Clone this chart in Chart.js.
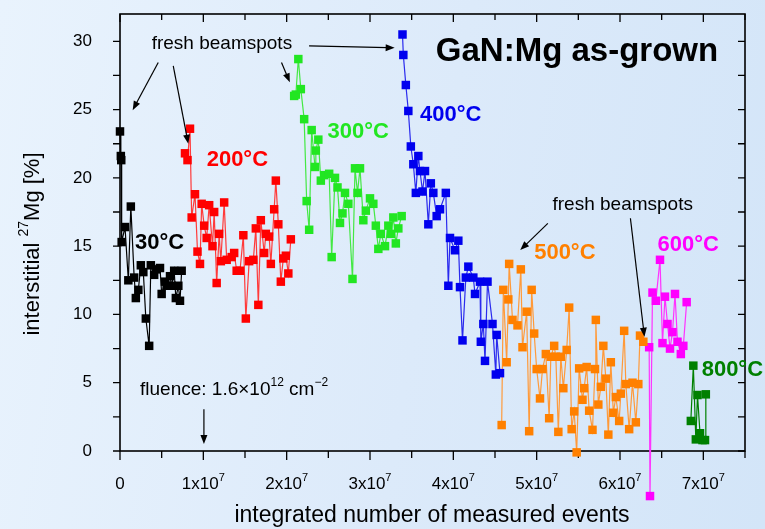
<!DOCTYPE html>
<html>
<head>
<meta charset="utf-8">
<script src="https://cdn.jsdelivr.net/npm/chart.js@4.4.1/dist/chart.umd.min.js"></script>
<style>
  html, body { margin: 0; padding: 0; }
  body {
    width: 765px; height: 529px; overflow: hidden;
    background: linear-gradient(100deg, #e9f3fd 0%, #dceafa 55%, #d3e5f8 100%);
  }
  canvas { display: block; }
</style>
</head>
<body>
<canvas id="chart" width="765" height="529"></canvas>
<script>
// x values in units of 1x10^7 measured events, y = interstitial 27Mg fraction [%]

const x30 = [0.00, 0.01, 0.015, 0.02, 0.06, 0.10, 0.13, 0.17, 0.19, 0.22, 0.25, 0.28, 0.31, 0.35, 0.37, 0.41, 0.44, 0.48, 0.50, 0.54, 0.56, 0.60, 0.62, 0.65, 0.67, 0.70, 0.72, 0.74];
const y30 = [23.4, 21.6, 21.3, 15.3, 16.4, 12.5, 17.9, 12.7, 11.2, 11.8, 13.6, 13.1, 9.7, 7.7, 13.6, 12.9, 13.3, 13.4, 11.5, 12.4, 12.1, 12.8, 12.1, 13.2, 11.2, 12.1, 11.0, 13.2];

const x200 = [0.78, 0.81, 0.84, 0.86, 0.90, 0.93, 0.96, 0.98, 1.01, 1.04, 1.07, 1.11, 1.13, 1.16, 1.19, 1.21, 1.25, 1.28, 1.34, 1.37, 1.40, 1.44, 1.48, 1.51, 1.55, 1.60, 1.63, 1.66, 1.69, 1.73, 1.75, 1.79, 1.81, 1.85, 1.87, 1.90, 1.93, 1.96, 1.99, 2.02, 2.05];
const y200 = [21.8, 21.3, 23.6, 17.1, 18.8, 14.6, 13.7, 18.1, 16.5, 15.6, 18.0, 15.0, 17.5, 12.3, 15.9, 13.9, 18.2, 14.0, 14.2, 14.5, 13.2, 13.2, 15.8, 9.7, 13.9, 14.0, 16.3, 10.7, 16.9, 14.5, 15.9, 15.7, 13.7, 17.7, 19.8, 16.6, 12.4, 14.1, 14.3, 13.0, 15.5];

const x300 = [2.09, 2.11, 2.14, 2.17, 2.21, 2.24, 2.27, 2.30, 2.34, 2.35, 2.38, 2.41, 2.45, 2.51, 2.54, 2.58, 2.61, 2.64, 2.67, 2.70, 2.74, 2.79, 2.82, 2.85, 2.88, 2.92, 2.95, 3.00, 3.04, 3.07, 3.10, 3.13, 3.18, 3.22, 3.25, 3.28, 3.31, 3.34, 3.38];
const y300 = [26.0, 26.1, 28.7, 26.5, 24.3, 18.3, 16.2, 23.5, 20.8, 22.0, 22.8, 19.8, 20.2, 20.3, 14.2, 20.0, 19.3, 16.7, 17.4, 18.9, 18.1, 12.6, 20.7, 18.9, 20.7, 16.9, 17.6, 18.5, 18.1, 16.5, 14.8, 15.9, 15.0, 16.5, 15.9, 17.1, 15.2, 16.3, 17.2];

const x400 = [3.39, 3.40, 3.43, 3.46, 3.49, 3.52, 3.55, 3.58, 3.60, 3.63, 3.66, 3.70, 3.73, 3.76, 3.80, 3.84, 3.91, 3.94, 3.96, 4.02, 4.06, 4.08, 4.11, 4.15, 4.18, 4.24, 4.26, 4.32, 4.33, 4.36, 4.38, 4.41, 4.47, 4.51, 4.52, 4.56];
const y400 = [30.5, 29.0, 26.8, 24.9, 22.3, 21.0, 18.9, 21.6, 20.5, 19.0, 20.5, 16.6, 19.6, 18.9, 17.2, 17.7, 18.9, 12.1, 15.6, 14.7, 15.4, 12.0, 8.1, 12.7, 13.5, 12.7, 11.5, 12.4, 8.0, 9.3, 6.6, 12.4, 9.3, 5.6, 8.5, 5.7];

const x500 = [4.58, 4.60, 4.64, 4.66, 4.67, 4.71, 4.77, 4.81, 4.83, 4.88, 4.91, 4.94, 4.97, 5.00, 5.04, 5.07, 5.11, 5.15, 5.17, 5.21, 5.23, 5.26, 5.29, 5.32, 5.36, 5.39, 5.42, 5.45, 5.48, 5.51, 5.55, 5.57, 5.60, 5.63, 5.67, 5.70, 5.71, 5.74, 5.77, 5.80, 5.83, 5.86, 5.89, 5.92, 5.95, 5.99, 6.01, 6.05, 6.07, 6.11, 6.15, 6.19, 6.22, 6.24, 6.28];
const y500 = [1.9, 11.8, 6.5, 11.1, 13.7, 9.6, 9.2, 13.3, 7.6, 10.2, 1.45, 11.8, 8.6, 6.0, 3.85, 6.0, 7.1, 2.4, 6.9, 7.7, 6.9, 1.4, 6.9, 4.6, 7.4, 10.5, 1.6, 2.9, -0.1, 6.05, 3.75, 4.6, 6.15, 2.95, 1.55, 6.0, 9.6, 3.4, 4.7, 7.7, 5.3, 1.2, 6.5, 2.8, 3.95, 2.2, 4.2, 8.8, 4.9, 1.6, 5.0, 2.1, 4.9, 8.45, 8.0];

const x600 = [6.35, 6.36, 6.39, 6.43, 6.48, 6.51, 6.54, 6.57, 6.60, 6.63, 6.66, 6.69, 6.73, 6.76, 6.80];
const y600 = [7.6, -3.3, 11.6, 11.0, 14.0, 7.9, 11.3, 9.3, 7.5, 8.7, 11.5, 8.0, 7.1, 7.7, 10.9];

const x800 = [6.85, 6.88, 6.91, 6.93, 6.96, 6.99, 7.02, 7.03];
const y800 = [2.2, 6.25, 0.85, 4.1, 1.3, 0.8, 0.8, 4.15];

const xTicks = [0, 1, 2, 3, 4, 5, 6, 7];
const yTicks = [0, 5, 10, 15, 20, 25, 30];

// temperature labels: [text, x, y, colour]
const tempLabels = [
  ["30°C", 0.18, 15.2, "#000000"],
  ["200°C", 1.04, 21.3, "#ff0000"],
  ["300°C", 2.49, 23.4, "#22e622"],
  ["400°C", 3.60, 24.6, "#0000ee"],
  ["500°C", 4.97, 14.5, "#ff8000"],
  ["600°C", 6.45, 15.1, "#ff00ff"],
  ["800°C", 6.98, 5.9, "#008000"],
];

// arrows: [x0, y0, x1, y1] in data units
const arrows = [
  [0.459, 28.45, 0.152, 24.96],
  [0.639, 28.2, 0.819, 22.5],
  [1.938, 28.45, 2.038, 27.0],
  [2.269, 29.67, 3.296, 29.52],
  [5.134, 16.67, 4.803, 14.71],
  [6.125, 17.04, 6.293, 8.37],
  [1.007, 3.05, 1.007, 0.51],
];

const FONT = '"Liberation Sans", Arial, sans-serif';
const MARK = 6; // point radius of the square markers

function series(label, xs, ys, color, lineColor) {
  return {
    label,
    data: xs.map((x, i) => ({ x, y: ys[i] })),
    showLine: true,
    borderColor: lineColor,
    borderWidth: 1.2,
    backgroundColor: color,
    pointStyle: "rect",
    pointRadius: MARK,
    pointBorderWidth: 0,
    pointBackgroundColor: color,
    tension: 0,
    clip: false,
  };
}

// draw text made of normal and superscript parts
function richText(ctx, parts, x, y, size, weight) {
  let cx = x;
  for (const p of parts) {
    const s = p.sup ? Math.round(size * 0.62) : size;
    ctx.font = `${weight || ""} ${s}px ${FONT}`;
    ctx.fillText(p.t, cx, p.sup ? y - size * 0.38 : y);
    cx += ctx.measureText(p.t).width;
  }
}

function richWidth(ctx, parts, size) {
  let w = 0;
  for (const p of parts) {
    const s = p.sup ? Math.round(size * 0.62) : size;
    ctx.font = `${s}px ${FONT}`;
    w += ctx.measureText(p.t).width;
  }
  return w;
}

function arrow(ctx, x0, y0, x1, y1) {
  const a = Math.atan2(y1 - y0, x1 - x0);
  const len = 9, half = 3.5;
  ctx.beginPath();
  ctx.moveTo(x0, y0);
  ctx.lineTo(x1 - Math.cos(a) * len * 0.8, y1 - Math.sin(a) * len * 0.8);
  ctx.stroke();
  ctx.beginPath();
  ctx.moveTo(x1, y1);
  ctx.lineTo(x1 - Math.cos(a) * len - Math.sin(a) * half, y1 - Math.sin(a) * len + Math.cos(a) * half);
  ctx.lineTo(x1 - Math.cos(a) * len + Math.sin(a) * half, y1 - Math.sin(a) * len - Math.cos(a) * half);
  ctx.closePath();
  ctx.fill();
}

const framePlugin = {
  id: "frame",
  beforeDatasetsDraw(chart) {
    const { ctx, chartArea: a, scales } = chart;
    const xs = scales.x, ys = scales.y;
    ctx.save();
    ctx.strokeStyle = "#000";
    ctx.lineWidth = 1.6;
    ctx.strokeRect(a.left, a.top, a.right - a.left, a.bottom - a.top);

    ctx.lineWidth = 1.3;
    ctx.beginPath();
    for (let v = 0; v <= 7.5; v += 0.5) {
      const px = xs.getPixelForValue(v);
      const major = Number.isInteger(v);
      ctx.moveTo(px, a.bottom);
      ctx.lineTo(px, a.bottom + (major ? 9 : 7));
      ctx.moveTo(px, a.top);
      ctx.lineTo(px, a.top + (major ? 8 : 6));
    }
    for (let v = 0; v <= 30; v += 2.5) {
      const py = ys.getPixelForValue(v);
      ctx.moveTo(a.left, py);
      ctx.lineTo(a.left - 7, py);
      ctx.moveTo(a.right, py);
      ctx.lineTo(a.right - 7, py);
    }
    ctx.stroke();

    // tick labels
    ctx.fillStyle = "#000";
    ctx.textBaseline = "middle";
    ctx.textAlign = "right";
    ctx.font = `17px ${FONT}`;
    for (const v of yTicks) ctx.fillText(String(v), 92, ys.getPixelForValue(v));

    ctx.textAlign = "left";
    for (const v of xTicks) {
      const parts = v === 0 ? [{ t: "0" }] : [{ t: v + "x10" }, { t: "7", sup: true }];
      const w = richWidth(ctx, parts, 17);
      richText(ctx, parts, xs.getPixelForValue(v) - w / 2, a.bottom + 33, 17);
    }

    // axis titles
    ctx.font = `23px ${FONT}`;
    ctx.textAlign = "center";
    ctx.fillText("integrated number of measured events", 432, 516);

    ctx.save();
    ctx.translate(33, 244);
    ctx.rotate(-Math.PI / 2);
    ctx.textAlign = "left";
    const yt = [{ t: "interstitial " }, { t: "27", sup: true }, { t: "Mg [%]" }];
    richText(ctx, yt, -richWidth(ctx, yt, 22) / 2, 0, 22);
    ctx.restore();
    ctx.restore();
  },
  afterDatasetsDraw(chart) {
    const { ctx, scales, chartArea: a } = chart;
    const X = v => scales.x.getPixelForValue(v);
    const Y = v => scales.y.getPixelForValue(v);
    ctx.save();

    // Chart.js skips markers lying outside the chart area; draw those here
    const side = 2 * Math.SQRT1_2 * MARK;
    chart.data.datasets.forEach((ds, i) => {
      ctx.fillStyle = ds.pointBackgroundColor;
      for (const el of chart.getDatasetMeta(i).data) {
        if (el.y > a.bottom + side / 2 || el.y < a.top - side / 2) {
          ctx.fillRect(el.x - side / 2, el.y - side / 2, side, side);
        }
      }
    });

    ctx.textBaseline = "middle";
    ctx.textAlign = "left";

    for (const [t, x, y, c] of tempLabels) {
      ctx.fillStyle = c;
      ctx.font = `bold 22px ${FONT}`;
      ctx.fillText(t, X(x), Y(y));
    }

    ctx.fillStyle = "#000";
    ctx.font = `bold 33px ${FONT}`;
    ctx.fillText("GaN:Mg as-grown", X(3.79), Y(29.2));

    ctx.font = `19px ${FONT}`;
    ctx.fillText("fresh beamspots", X(0.38), Y(29.8));
    ctx.fillText("fresh beamspots", X(5.19), Y(18.0));

    richText(ctx, [{ t: "fluence: 1.6×10" }, { t: "12", sup: true }, { t: " cm" }, { t: "−2", sup: true }], X(0.24), Y(4.47), 19);

    ctx.strokeStyle = "#000";
    ctx.lineWidth = 1.2;
    for (const [x0, y0, x1, y1] of arrows) arrow(ctx, X(x0), Y(y0), X(x1), Y(y1));
    ctx.restore();
  },
};

new Chart(document.getElementById("chart").getContext("2d"), {
  type: "scatter",
  data: {
    datasets: [
      series("30°C", x30, y30, "#000000", "#000000"),
      series("200°C", x200, y200, "#ff0000", "#ff3a3a"),
      series("300°C", x300, y300, "#22e622", "#44e844"),
      series("400°C", x400, y400, "#0000ee", "#2a2aee"),
      series("500°C", x500, y500, "#ff8000", "#ff9a3a"),
      series("600°C", x600, y600, "#ff00ff", "#ff33ff"),
      series("800°C", x800, y800, "#008000", "#008000"),
    ],
  },
  options: {
    responsive: false,
    animation: false,
    layout: { padding: { top: 14, right: 20, left: 0, bottom: 0 } },
    plugins: { legend: { display: false }, tooltip: { enabled: false } },
    scales: {
      x: {
        type: "linear", min: 0, max: 7.5,
        grid: { display: false }, border: { display: false },
        ticks: { display: false },
        afterFit: (s) => { s.height = 78; },
      },
      y: {
        type: "linear", min: 0, max: 32,
        grid: { display: false }, border: { display: false },
        ticks: { display: false },
        afterFit: (s) => { s.width = 120; },
      },
    },
  },
  plugins: [framePlugin],
});
</script>
</body>
</html>
